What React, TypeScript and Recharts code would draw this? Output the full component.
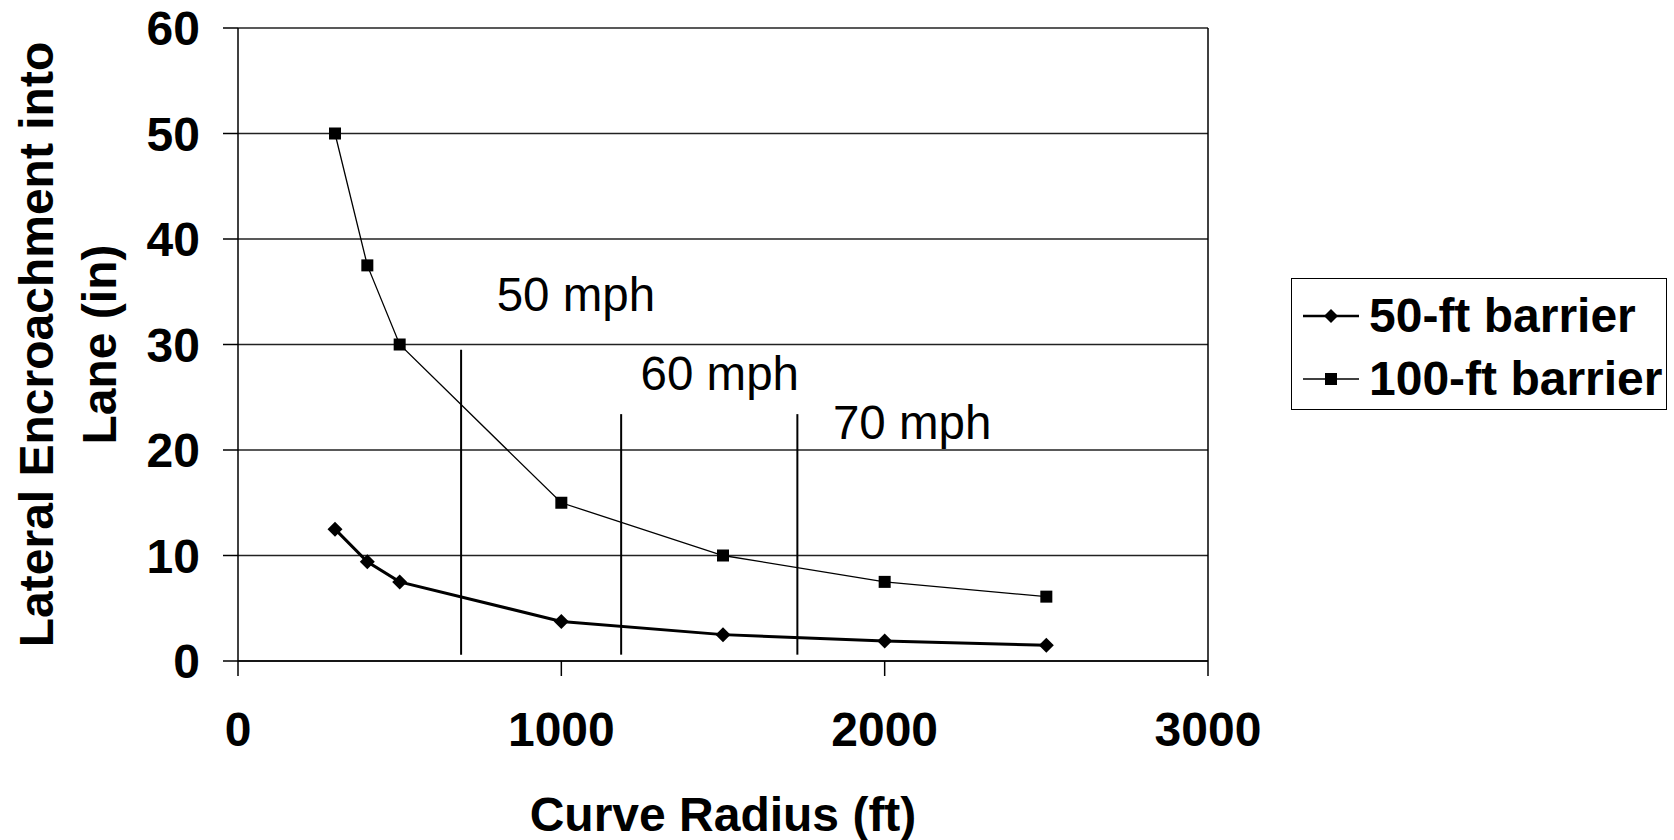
import React from 'react';
import {
  LineChart,
  Line,
  XAxis,
  YAxis,
  CartesianGrid,
  ReferenceLine,
  ReferenceDot,
  Legend,
  Label,
} from 'recharts';

// curve radius (ft) and lateral encroachment (in)
const radius = [300, 400, 500, 1000, 1500, 2000, 2500];
const barrier50 = [12.5, 9.4, 7.5, 3.75, 2.5, 1.9, 1.5];
const barrier100 = [50, 37.5, 30, 15, 10, 7.5, 6.1];

const xTicks = [0, 1000, 2000, 3000];
const yTicks = [0, 10, 20, 30, 40, 50, 60];

// speed boundaries drawn as vertical segments, with their labels
const speedNames = ['50 mph', '60 mph', '70 mph'];
const speedLineX = [690, 1185, 1730];
const speedLineBottom = [0.6, 0.6, 0.6];
const speedLineTop = [29.5, 23.4, 23.4];
const speedLabelX = [1045, 1490, 2085];
const speedLabelY = [34.8, 27.3, 22.6];

const seriesNames = ['50-ft barrier', '100-ft barrier'];

const FONT = '"Liberation Sans", Arial, Helvetica, sans-serif';
const BOLD = 48;

const data = radius.map((r, i) => ({ r, b50: barrier50[i], b100: barrier100[i] }));

const Diamond = (props: any) => {
  const { cx, cy, index } = props;
  if (cx == null || cy == null) return <g key={`d-${index}`} />;
  const s = 7.5;
  return (
    <polygon
      key={`d-${index}`}
      points={`${cx},${cy - s} ${cx + s},${cy} ${cx},${cy + s} ${cx - s},${cy}`}
      fill="#000"
    />
  );
};

const Square = (props: any) => {
  const { cx, cy, index } = props;
  if (cx == null || cy == null) return <g key={`s-${index}`} />;
  return <rect key={`s-${index}`} x={cx - 6} y={cy - 6} width={12} height={12} fill="#000" />;
};

const LegendBox = () => (
  <div
    style={{
      width: 376,
      height: 132,
      border: '1.5px solid #000',
      boxSizing: 'border-box',
      background: '#fff',
      fontFamily: FONT,
      fontWeight: 'bold',
      fontSize: BOLD,
      paddingTop: 5,
    }}
  >
    {seriesNames.map((name, i) => (
      <div key={name} style={{ display: 'flex', alignItems: 'center', height: 63 }}>
        <svg width={70} height={20} style={{ marginLeft: 11, marginRight: 6 }}>
          <line x1={0} y1={10} x2={56} y2={10} stroke="#000" strokeWidth={i === 0 ? 2.5 : 1.3} />
          {i === 0 ? (
            <polygon points="28,3 35,10 28,17 21,10" fill="#000" />
          ) : (
            <rect x={22} y={4} width={12} height={12} fill="#000" />
          )}
        </svg>
        <span style={{ lineHeight: 1, marginLeft: -10 }}>{name}</span>
      </div>
    ))}
  </div>
);

// two-line rotated y title; x is where each line's baseline falls
const yTitle = (lines: string[]) => (props: any) => {
  const vb = props.viewBox || { x: 0, y: 28, width: 238, height: 633 };
  const cy = vb.y + vb.height / 2;
  const xs = [53, 116];
  return (
    <g>
      {lines.map((t, i) => (
        <text
          key={t}
          x={xs[i]}
          y={cy}
          transform={`rotate(-90 ${xs[i]} ${cy})`}
          textAnchor="middle"
          fontSize={BOLD}
          fontWeight="bold"
          fontFamily={FONT}
          fill="#000"
        >
          {t}
        </text>
      ))}
    </g>
  );
};

export default function App() {
  return (
    <div style={{ position: 'absolute', left: 0, top: 0, width: 1674, height: 840, background: '#fff' }}>
      <LineChart
        width={1674}
        height={840}
        data={data}
        margin={{ top: 28, right: 466, bottom: 0, left: 0 }}
        style={{ fontFamily: FONT }}
      >
        <CartesianGrid vertical={false} stroke="#222" strokeWidth={1.3} />
        <XAxis
          dataKey="r"
          type="number"
          domain={[0, 3000]}
          ticks={xTicks}
          height={179}
          tickSize={15}
          tickMargin={36}
          axisLine={{ stroke: '#000', strokeWidth: 1.5 }}
          tickLine={{ stroke: '#000', strokeWidth: 1.5 }}
          tick={{ fontSize: BOLD, fontWeight: 'bold', fill: '#000', fontFamily: FONT }}
        >
          <Label
            value="Curve Radius (ft)"
            position="insideBottom"
            offset={9}
            style={{ fontSize: BOLD, fontWeight: 'bold', fill: '#000', fontFamily: FONT }}
          />
        </XAxis>
        <YAxis
          type="number"
          domain={[0, 60]}
          ticks={yTicks}
          width={238}
          tickSize={15}
          tickMargin={23}
          axisLine={{ stroke: '#000', strokeWidth: 1.5 }}
          tickLine={{ stroke: '#000', strokeWidth: 1.5 }}
          tick={{ fontSize: BOLD, fontWeight: 'bold', fill: '#000', fontFamily: FONT }}
        >
          <Label content={yTitle(['Lateral Encroachment into', 'Lane (in)'])} />
        </YAxis>
        <ReferenceLine x={3000} stroke="#000" strokeWidth={1.5} />
        {speedNames.map((name, i) => (
          <ReferenceLine
            key={`l-${name}`}
            segment={[
              { x: speedLineX[i], y: speedLineBottom[i] },
              { x: speedLineX[i], y: speedLineTop[i] },
            ]}
            stroke="#000"
            strokeWidth={2}
          />
        ))}
        {speedNames.map((name, i) => (
          <ReferenceDot
            key={`t-${name}`}
            x={speedLabelX[i]}
            y={speedLabelY[i]}
            r={0}
            fill="none"
            stroke="none"
            label={{ value: name, position: 'center', fontSize: 47.5, fill: '#000', fontFamily: FONT }}
          />
        ))}
        <Line
          dataKey="b100"
          name={seriesNames[1]}
          stroke="#000"
          strokeWidth={1.3}
          dot={Square}
          activeDot={false}
          isAnimationActive={false}
        />
        <Line
          dataKey="b50"
          name={seriesNames[0]}
          stroke="#000"
          strokeWidth={3}
          dot={Diamond}
          activeDot={false}
          isAnimationActive={false}
        />
        <Legend
          layout="vertical"
          align="center"
          verticalAlign="middle"
          wrapperStyle={{ left: 1291, top: 278, width: 376, height: 132 }}
          content={LegendBox}
        />
      </LineChart>
    </div>
  );
}
